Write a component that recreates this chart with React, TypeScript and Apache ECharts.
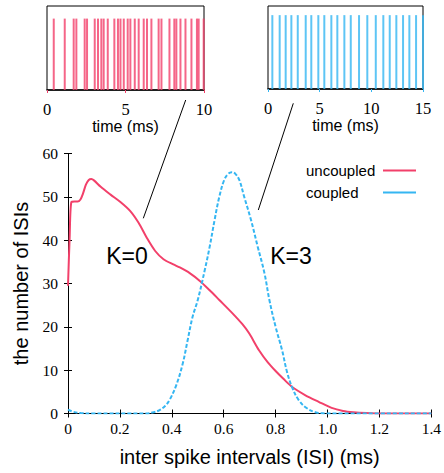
import React, { useEffect, useRef } from 'react';
import * as echarts from 'echarts';

// Main ISI histogram
const uncoupledISI = [0, 0.006, 0.013, 0.025, 0.037, 0.048, 0.058, 0.069, 0.08, 0.09, 0.1, 0.126, 0.164, 0.202, 0.24, 0.272, 0.304, 0.336, 0.368, 0.406, 0.431, 0.469, 0.508, 0.545, 0.583, 0.634, 0.672, 0.698, 0.736, 0.77, 0.8, 0.83, 0.864, 0.915, 0.966, 1.016, 1.06, 1.1, 1.15, 1.2, 1.4];
const uncoupledCount = [29.5, 40, 48.8, 48.9, 48.9, 49.4, 50.8, 52.8, 53.9, 54.1, 53.8, 52.3, 50.5, 48.8, 46.7, 44, 40.5, 37.5, 35.6, 34.4, 33.7, 32.4, 30.6, 28.5, 26.2, 23.1, 20.6, 18.5, 14.6, 11.8, 9.8, 8, 6.1, 4.2, 2.7, 1.3, 0.6, 0.3, 0.1, 0, 0];

const coupledISI = [0, 0.02, 0.05, 0.1, 0.3, 0.33, 0.353, 0.375, 0.391, 0.417, 0.442, 0.461, 0.48, 0.5, 0.527, 0.546, 0.565, 0.583, 0.602, 0.617, 0.631, 0.645, 0.66, 0.679, 0.705, 0.731, 0.757, 0.776, 0.8, 0.825, 0.844, 0.864, 0.889, 0.921, 0.953, 0.98, 1.0, 1.4];
const coupledCount = [0.9, 0.4, 0.1, 0, 0, 0.3, 0.8, 1.8, 3.1, 6.5, 11.5, 16.9, 22.3, 26.2, 33.1, 38.5, 44.7, 50, 53.9, 55.3, 55.7, 55.3, 53.9, 50, 44.7, 38.5, 32.4, 26.2, 20, 14.6, 9.6, 6, 3.1, 1.2, 0.3, 0.05, 0, 0];

// Spike trains (ms)
const spikesUncoupled = [0.43, 1.13, 1.7, 1.87, 2.4, 2.55, 3.04, 3.25, 3.46, 3.61, 3.87, 4.29, 4.52, 4.68, 4.89, 5.14, 5.31, 5.59, 5.84, 6.16, 6.37, 6.65, 7.11, 7.29, 7.8, 8.11, 8.24, 8.5, 8.82, 9.2, 9.55, 9.66, 9.98];
const spikesCoupled = [0.42, 1.13, 1.71, 2.26, 2.88, 3.65, 4.19, 4.87, 5.45, 6.13, 6.71, 7.39, 8.01, 8.81, 9.61, 10.43, 11.16, 11.78, 12.42, 13.07, 13.68, 14.33, 15.0];

const seriesNames = ['uncoupled', 'coupled'];
const annotations = ['K=0', 'K=3'];

const PINK = '#f2406a';
const BLUE = '#35b6f2';
const SERIF = "'Liberation Serif', 'Times New Roman', serif";
const SANS = "'Liberation Sans', Arial, sans-serif";

export default function App() {
  const ref = useRef<HTMLDivElement>(null);
  useEffect(() => {
    if (!ref.current) return;
    const chart = echarts.init(ref.current, null, { renderer: 'svg' });

    const spikeRender = (color: string, h: number) => (params: any, api: any) => {
      const t = api.value(0);
      const p0 = api.coord([t, 0]);
      const p1 = api.coord([t, h]);
      return {
        type: 'line',
        shape: { x1: p0[0], y1: p0[1], x2: p1[0], y2: p1[1] },
        style: { stroke: color, lineWidth: 2, opacity: 0.8 },
      };
    };

    const hiddenY = (gi: number) => ({
      type: 'value', gridIndex: gi, min: 0, max: 1, show: false,
    });

    const option: any = {
      animation: false,
      backgroundColor: '#fff',
      grid: [
        { left: 68, top: 153.5, width: 365.5, height: 260, show: false },
        { left: 47, top: 6, width: 157, height: 84, show: true, borderColor: '#000', borderWidth: 1 },
        { left: 268, top: 6, width: 155, height: 83, show: true, borderColor: '#000', borderWidth: 1 },
      ],
      legend: {
        data: seriesNames,
        orient: 'vertical',
        right: 23,
        top: 158,
        align: 'right',
        itemWidth: 33,
        itemHeight: 14,
        itemGap: 7,
        icon: 'path://M0,6L33,6L33,8L0,8Z',
        formatter: (name: string) => `{a|${name}}`,
        textStyle: {
          color: '#000', fontFamily: SANS, fontSize: 15,
          rich: { a: { width: 72, align: 'left', fontFamily: SANS, fontSize: 15, color: '#000' } },
        },
      },
      xAxis: [
        {
          type: 'value', gridIndex: 0, min: 0, max: 1.4, interval: 0.2,
          name: 'inter spike intervals (ISI) (ms)', nameLocation: 'middle', nameGap: 33,
          nameTextStyle: { fontFamily: SANS, fontSize: 20, color: '#000' },
          axisLine: { show: true, lineStyle: { color: '#000', width: 1 } },
          axisTick: { show: true, inside: true, length: 4, lineStyle: { color: '#000' } },
          axisLabel: {
            fontFamily: SERIF, fontSize: 15.5, color: '#000', margin: 7,
            formatter: (v: number) => (v === 0 ? '0' : v.toFixed(1)),
          },
          splitLine: { show: false },
        },
        {
          type: 'value', gridIndex: 0, min: 0, max: 1.4, interval: 0.2, position: 'top',
          axisLine: { show: true, lineStyle: { color: '#000', width: 1 } },
          axisTick: { show: true, inside: true, length: 4, lineStyle: { color: '#000' } },
          axisLabel: { show: false },
          splitLine: { show: false },
        },
        {
          type: 'value', gridIndex: 1, min: 0, max: 10, interval: 5,
          name: 'time (ms)', nameLocation: 'middle', nameGap: 25,
          nameTextStyle: { fontFamily: SANS, fontSize: 16, color: '#000' },
          axisLine: { show: true, lineStyle: { color: '#000', width: 1.5 } },
          axisTick: { show: true, length: 3, lineStyle: { color: PINK } },
          axisLabel: { fontFamily: SERIF, fontSize: 16.5, color: '#000', margin: 11 },
          splitLine: { show: false },
        },
        {
          type: 'value', gridIndex: 2, min: 0, max: 15, interval: 5,
          name: 'time (ms)', nameLocation: 'middle', nameGap: 25,
          nameTextStyle: { fontFamily: SANS, fontSize: 16, color: '#000' },
          axisLine: { show: true, lineStyle: { color: '#000', width: 1.5 } },
          axisTick: { show: true, length: 3, lineStyle: { color: BLUE } },
          axisLabel: { fontFamily: SERIF, fontSize: 16.5, color: '#000', margin: 11 },
          splitLine: { show: false },
        },
      ],
      yAxis: [
        {
          type: 'value', gridIndex: 0, min: 0, max: 60, interval: 10,
          name: 'the number of ISIs', nameLocation: 'middle', nameGap: 37,
          nameTextStyle: { fontFamily: SANS, fontSize: 20, color: '#000' },
          axisLine: { show: true, lineStyle: { color: '#000', width: 1 } },
          axisTick: { show: true, inside: true, length: 4, lineStyle: { color: '#000' } },
          axisLabel: { fontFamily: SERIF, fontSize: 15.5, color: '#000', margin: 10 },
          splitLine: { show: false },
        },
        {
          type: 'value', gridIndex: 0, min: 0, max: 60, interval: 10, position: 'right',
          axisLine: { show: true, lineStyle: { color: '#000', width: 1 } },
          axisTick: { show: true, inside: true, length: 4, lineStyle: { color: '#000' } },
          axisLabel: { show: false },
          splitLine: { show: false },
        },
        hiddenY(1),
        hiddenY(2),
      ],
      series: [
        {
          name: seriesNames[0], type: 'line', xAxisIndex: 0, yAxisIndex: 0,
          data: uncoupledISI.map((x, i) => [x, uncoupledCount[i]]),
          showSymbol: false, symbol: 'none', smooth: 0.3, z: 3,
          itemStyle: { color: PINK },
          lineStyle: { color: PINK, width: 2 },
        },
        {
          name: seriesNames[1], type: 'line', xAxisIndex: 0, yAxisIndex: 0,
          data: coupledISI.map((x, i) => [x, coupledCount[i]]),
          showSymbol: false, symbol: 'none', smooth: 0.4, z: 4,
          itemStyle: { color: BLUE },
          lineStyle: { color: BLUE, width: 2, type: [4, 2] },
        },
        {
          type: 'custom', xAxisIndex: 2, yAxisIndex: 2,
          data: spikesUncoupled.map((t) => [t, 0.85]),
          encode: { x: 0, y: 1 },
          renderItem: spikeRender(PINK, 0.85),
          clip: false,
        },
        {
          type: 'custom', xAxisIndex: 3, yAxisIndex: 3,
          data: spikesCoupled.map((t) => [t, 0.89]),
          encode: { x: 0, y: 1 },
          renderItem: spikeRender(BLUE, 0.89),
          clip: false,
        },
      ],
      graphic: [
        { type: 'line', shape: { x1: 185.7, y1: 100, x2: 143.3, y2: 218.3 }, style: { stroke: '#000', lineWidth: 1 } },
        { type: 'line', shape: { x1: 293.3, y1: 103.3, x2: 258.3, y2: 210 }, style: { stroke: '#000', lineWidth: 1 } },
        { type: 'text', x: 127, y: 256, style: { text: annotations[0], fontFamily: SANS, fontSize: 23, fill: '#000', align: 'center', verticalAlign: 'middle' } },
        { type: 'text', x: 291, y: 256, style: { text: annotations[1], fontFamily: SANS, fontSize: 23, fill: '#000', align: 'center', verticalAlign: 'middle' } },
      ],
    };
    chart.setOption(option);
    return () => chart.dispose();
  }, []);
  return <div ref={ref} style={{ position: 'fixed', left: 0, top: 0, width: 444, height: 473 }} />;
}
